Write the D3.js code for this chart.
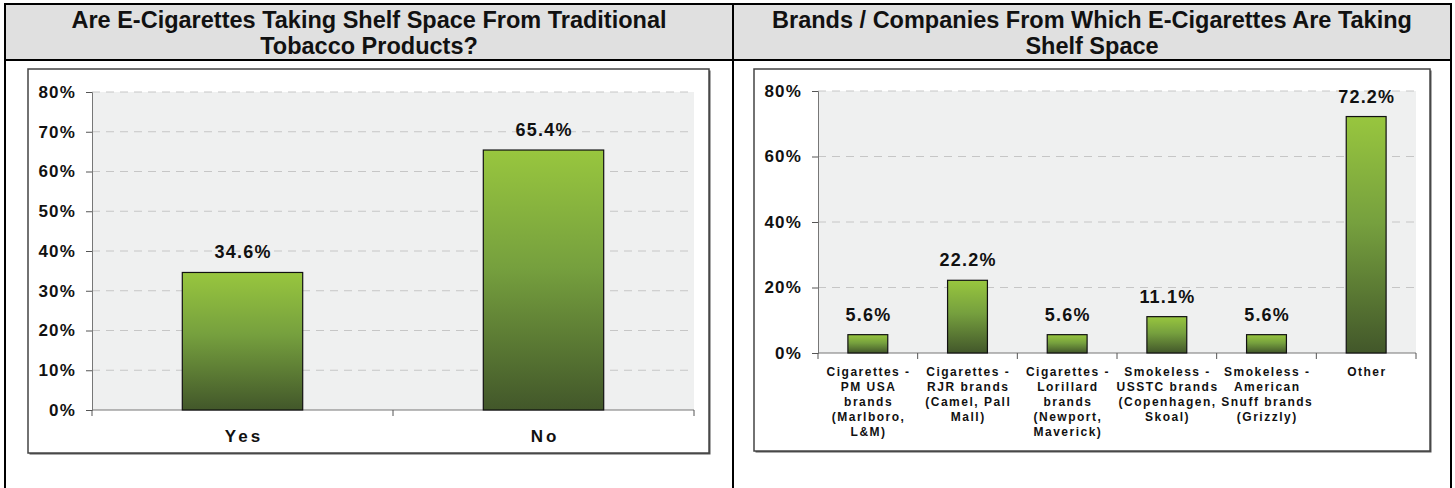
<!DOCTYPE html>
<html>
<head>
  <meta charset="utf-8">
  <title>E-Cigarettes shelf space</title>
  <script src="https://cdn.jsdelivr.net/npm/d3@7/dist/d3.min.js"></script>
  <style>
    body { margin: 0; background: #fff; }
    text { font-family: "Liberation Sans", Arial, sans-serif; font-weight: bold; fill: #111; }
  </style>
</head>
<body>
  <svg width="1455" height="488"></svg>
  <script>
    // data
    var leftTitle = ["Are E-Cigarettes Taking Shelf Space From Traditional", "Tobacco Products?"];
    var leftCategories = [["Yes"], ["No"]];
    var leftValues = [34.6, 65.4];
    var leftTicks = [0, 10, 20, 30, 40, 50, 60, 70, 80];

    var rightTitle = ["Brands / Companies From Which E-Cigarettes Are Taking", "Shelf Space"];
    var rightCategories = [
      ["Cigarettes -", "PM USA", "brands", "(Marlboro,", "L&M)"],
      ["Cigarettes -", "RJR brands", "(Camel, Pall", "Mall)"],
      ["Cigarettes -", "Lorillard", "brands", "(Newport,", "Maverick)"],
      ["Smokeless -", "USSTC brands", "(Copenhagen,", "Skoal)"],
      ["Smokeless -", "American", "Snuff brands", "(Grizzly)"],
      ["Other"]
    ];
    var rightValues = [5.6, 22.2, 5.6, 11.1, 5.6, 72.2];
    var rightTicks = [0, 20, 40, 60, 80];

    var svg = d3.select("svg");

    // gradient for bars
    var grad = svg.append("defs").append("linearGradient")
      .attr("id", "barGrad")
      .attr("x1", 0).attr("y1", 0).attr("x2", 0).attr("y2", 1);
    grad.append("stop").attr("offset", "0%").attr("stop-color", "#98c63e");
    grad.append("stop").attr("offset", "45%").attr("stop-color", "#76a03e");
    grad.append("stop").attr("offset", "100%").attr("stop-color", "#42572a");

    // outer table
    svg.append("rect").attr("x", 5).attr("y", 4).attr("width", 1446).attr("height", 56)
      .attr("fill", "#e0e0e0");
    svg.append("path")
      .attr("d", "M5,520 V4 H1451 V520 M5,60 H1451 M733,4 V520")
      .attr("fill", "none").attr("stroke", "#000").attr("stroke-width", 2);

    function title(lines, cx) {
      svg.append("g").selectAll("text").data(lines).enter().append("text")
        .attr("x", cx).attr("y", function (d, i) { return 28 + i * 26; })
        .attr("text-anchor", "middle")
        .style("font-size", "23.5px")
        .text(function (d) { return d; });
    }
    title(leftTitle, 369);
    title(rightTitle, 1092);

    function drawChart(cfg) {
      // chart area box
      svg.append("rect")
        .attr("x", cfg.box[0] + 1.5).attr("y", cfg.box[1] + 1.5)
        .attr("width", cfg.box[2] - cfg.box[0]).attr("height", cfg.box[3] - cfg.box[1])
        .attr("fill", "#555");
      svg.append("rect")
        .attr("x", cfg.box[0]).attr("y", cfg.box[1])
        .attr("width", cfg.box[2] - cfg.box[0]).attr("height", cfg.box[3] - cfg.box[1])
        .attr("fill", "#fff").attr("stroke", "#444").attr("stroke-width", 1.5);

      var x = d3.scaleBand()
        .domain(d3.range(cfg.values.length))
        .range([cfg.plot[0], cfg.plot[2]])
        .paddingInner(0.6).paddingOuter(0.3);
      var y = d3.scaleLinear().domain([0, 80]).range([cfg.plot[3], cfg.plot[1]]);

      var g = svg.append("g");
      g.append("rect")
        .attr("x", cfg.plot[0]).attr("y", cfg.plot[1])
        .attr("width", cfg.plot[2] - cfg.plot[0]).attr("height", cfg.plot[3] - cfg.plot[1])
        .attr("fill", "#eff0f0");

      // grid
      g.append("g").selectAll("line").data(cfg.ticks.slice(1)).enter().append("line")
        .attr("x1", cfg.plot[0]).attr("x2", cfg.plot[2])
        .attr("y1", function (d) { return y(d); }).attr("y2", function (d) { return y(d); })
        .attr("stroke", "#c6c6c6").attr("stroke-dasharray", "8,6");

      // y axis
      var yAxis = g.append("g")
        .attr("transform", "translate(" + cfg.plot[0] + ",0)")
        .call(d3.axisLeft(y).tickValues(cfg.ticks).tickSize(6).tickPadding(cfg.tickPad)
          .tickFormat(function (d) { return d + "%"; }));
      yAxis.select(".domain").attr("stroke", "#777");
      yAxis.selectAll(".tick line").attr("stroke", "#555");
      yAxis.selectAll("text")
        .attr("fill", "#111")
        .style("font-family", "'Liberation Sans', Arial, sans-serif")
        .style("font-weight", "bold")
        .style("font-size", "17px")
        .style("letter-spacing", "1.2px");

      // x axis line with boundary ticks
      var bounds = d3.range(cfg.values.length + 1).map(function (i) {
        return cfg.plot[0] + i * (cfg.plot[2] - cfg.plot[0]) / cfg.values.length;
      });
      g.append("line")
        .attr("x1", cfg.plot[0]).attr("x2", cfg.plot[2])
        .attr("y1", cfg.plot[3]).attr("y2", cfg.plot[3])
        .attr("stroke", "#777");
      g.append("g").selectAll("line").data(bounds).enter().append("line")
        .attr("x1", function (d) { return d; }).attr("x2", function (d) { return d; })
        .attr("y1", cfg.plot[3]).attr("y2", cfg.plot[3] + 6)
        .attr("stroke", "#555");

      // bars
      g.append("g").selectAll("rect").data(cfg.values).enter().append("rect")
        .attr("x", function (d, i) { return x(i); })
        .attr("width", x.bandwidth())
        .attr("y", function (d) { return y(d); })
        .attr("height", function (d) { return y(0) - y(d); })
        .attr("fill", "url(#barGrad)")
        .attr("stroke", "#111").attr("stroke-width", 1.2);

      // value labels
      g.append("g").selectAll("text").data(cfg.values).enter().append("text")
        .attr("x", function (d, i) { return x(i) + x.bandwidth() / 2 + 0.6; })
        .attr("y", function (d) { return y(d) - 14; })
        .attr("text-anchor", "middle")
        .style("font-size", "18px")
        .style("letter-spacing", "1.2px")
        .text(function (d) { return d.toFixed(1) + "%"; });

      // category labels
      var cats = g.append("g").selectAll("text").data(cfg.categories).enter().append("text")
        .attr("text-anchor", "middle")
        .style("font-size", cfg.catSize + "px")
        .style("letter-spacing", cfg.catSpacing + "px");
      cats.selectAll("tspan").data(function (d, i) {
        return d.map(function (line) { return { line: line, i: i }; });
      }).enter().append("tspan")
        .attr("x", function (d) { return x(d.i) + x.bandwidth() / 2 + cfg.catSpacing / 2; })
        .attr("y", function (d, j) { return cfg.catY + j * cfg.catLine; })
        .text(function (d) { return d.line; });
    }

    drawChart({
      box: [28, 69, 709, 453],
      plot: [92, 92, 694, 410],
      values: leftValues,
      categories: leftCategories,
      ticks: leftTicks,
      tickPad: 10,
      catY: 442, catLine: 15, catSize: 17, catSpacing: 3
    });

    drawChart({
      box: [754, 69, 1430, 451],
      plot: [818, 91, 1416, 353],
      values: rightValues,
      categories: rightCategories,
      ticks: rightTicks,
      tickPad: 10,
      catY: 376, catLine: 15, catSize: 12, catSpacing: 1.5
    });
  </script>
</body>
</html>
